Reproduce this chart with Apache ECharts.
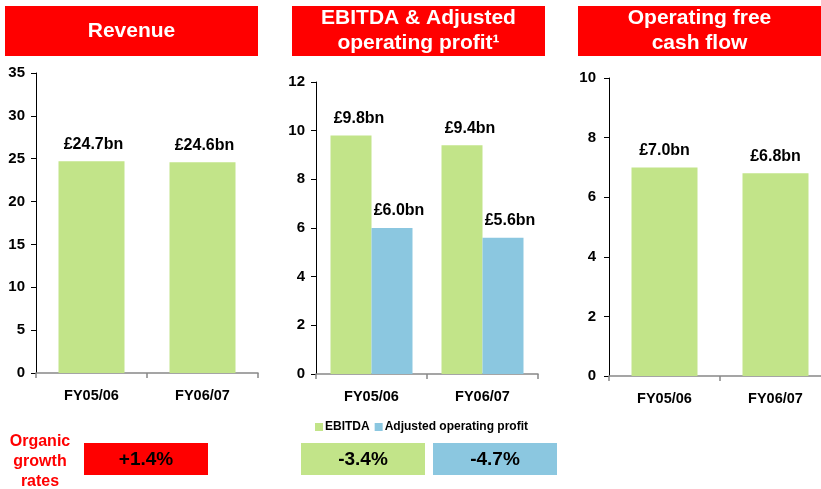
<!DOCTYPE html>
<html>
<head>
<meta charset="utf-8">
<script src="https://cdn.jsdelivr.net/npm/echarts@6/dist/echarts.min.js"></script>
<style>
html, body { margin: 0; padding: 0; background: #fff; overflow: hidden; }
#chart { width: 840px; height: 489px; }
</style>
</head>
<body>
<div id="chart"></div>
<script>
// data
var categories = ['FY05/06', 'FY06/07'];
var revenue = [24.7, 24.6];
var ebitda = [9.8, 9.4];
var adjOpProfit = [6.0, 5.6];
var opFreeCash = [7.0, 6.8];
var growthRates = ['+1.4%', '-3.4%', '-4.7%'];

var FONT = '"Liberation Sans", Arial, sans-serif';
var GREEN = '#c2e489';
var BLUE = '#8bc7e0';
var RED = '#ff0000';

function bnLabel(p) {
  return '£' + p.value.toFixed(1) + 'bn';
}

function makeX(idx) {
  return {
    type: 'category', gridIndex: idx, data: categories,
    axisLine: { lineStyle: { color: '#888', width: 1.5 } },
    axisTick: { show: true, length: 5, lineStyle: { color: '#888', width: 1.5 } },
    axisLabel: { color: '#000', fontFamily: FONT, fontWeight: 'bold', fontSize: 14.5, margin: 15 }
  };
}
function makeY(idx, max, interval, margin) {
  return {
    type: 'value', gridIndex: idx, min: 0, max: max, interval: interval,
    axisLine: { show: true, lineStyle: { color: '#000', width: 1 } },
    axisTick: { show: true, length: 5, lineStyle: { color: '#000' } },
    splitLine: { show: false },
    axisLabel: { color: '#000', fontFamily: FONT, fontWeight: 'bold', fontSize: 15, margin: margin }
  };
}
function valLabel(offsetX) {
  return {
    show: true, position: 'top', distance: 9, offset: [offsetX, 0],
    formatter: bnLabel, color: '#000', fontFamily: FONT, fontWeight: 'bold', fontSize: 16
  };
}

var chart = echarts.init(document.getElementById('chart'));

var titleBoxes = [
  { x: 5, w: 253, lines: 'Revenue' },
  { x: 292, w: 253, lines: 'EBITDA & Adjusted\noperating profit¹' },
  { x: 578, w: 243, lines: 'Operating free\ncash flow' }
];
var bottomBoxes = [
  { x: 84, w: 124, color: RED, text: growthRates[0] },
  { x: 301, w: 124, color: GREEN, text: growthRates[1] },
  { x: 433, w: 124, color: BLUE, text: growthRates[2] }
];

var graphics = [];
titleBoxes.forEach(function (b) {
  graphics.push({ type: 'rect', shape: { x: b.x, y: 6, width: b.w, height: 50 }, style: { fill: RED } });
  graphics.push({
    type: 'text', x: b.x + b.w / 2, y: 31,
    style: { text: b.lines, fill: '#fff', font: 'bold 21px ' + FONT, align: 'center', verticalAlign: 'middle', lineHeight: 25 }
  });
});
bottomBoxes.forEach(function (b) {
  graphics.push({ type: 'rect', shape: { x: b.x, y: 443, width: b.w, height: 32 }, style: { fill: b.color } });
  graphics.push({
    type: 'text', x: b.x + b.w / 2, y: 460,
    style: { text: b.text, fill: '#000', font: 'bold 19px ' + FONT, align: 'center', verticalAlign: 'middle' }
  });
});
graphics.push({
  type: 'text', x: 40, y: 462,
  style: { text: 'Organic\ngrowth\nrates', fill: RED, font: 'bold 16px ' + FONT, align: 'center', verticalAlign: 'middle', lineHeight: 20 }
});

var option = {
  animation: false,
  backgroundColor: '#fff',
  grid: [
    { left: 36, top: 73, width: 222, height: 300 },
    { left: 316, top: 82, width: 222, height: 292 },
    { left: 609, top: 78, width: 222, height: 298 }
  ],
  xAxis: [makeX(0), makeX(1), makeX(2)],
  yAxis: [makeY(0, 35, 5, 11), makeY(1, 12, 2, 11), makeY(2, 10, 2, 13)],
  legend: {
    data: ['EBITDA', 'Adjusted operating profit'],
    left: 310, top: 416, itemWidth: 8, itemHeight: 8, itemGap: 5,
    icon: 'rect',
    textStyle: { color: '#000', fontFamily: FONT, fontWeight: 'bold', fontSize: 12, padding: [0, 0, 0, -3] }
  },
  series: [
    { name: 'Revenue', type: 'bar', xAxisIndex: 0, yAxisIndex: 0, data: revenue, barWidth: 66,
      itemStyle: { color: GREEN }, label: valLabel(2) },
    { name: 'EBITDA', type: 'bar', xAxisIndex: 1, yAxisIndex: 1, data: ebitda, barWidth: 41, barGap: '0%',
      itemStyle: { color: GREEN }, label: valLabel(8) },
    { name: 'Adjusted operating profit', type: 'bar', xAxisIndex: 1, yAxisIndex: 1, data: adjOpProfit, barWidth: 41, barGap: '0%',
      itemStyle: { color: BLUE }, label: valLabel(7) },
    { name: 'Operating free cash flow', type: 'bar', xAxisIndex: 2, yAxisIndex: 2, data: opFreeCash, barWidth: 66,
      itemStyle: { color: GREEN }, label: valLabel(0) }
  ],
  graphic: graphics
};
chart.setOption(option);
</script>
</body>
</html>
